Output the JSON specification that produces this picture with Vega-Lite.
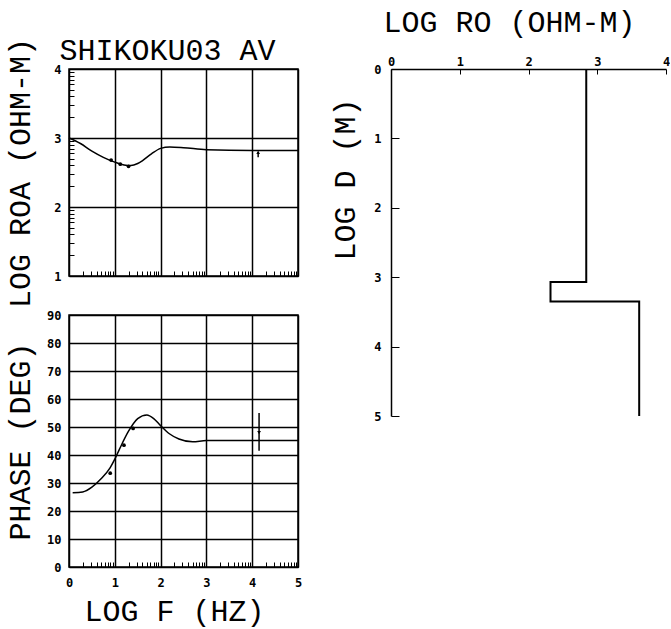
{
  "$schema": "https://vega.github.io/schema/vega-lite/v6.json",
  "background": "white",
  "padding": {"left": 4, "top": 7, "right": 0, "bottom": 0},
  "config": {
    "view": {"stroke": "black", "strokeWidth": 1.5},
    "axis": {
      "labelFont": "DejaVu Sans Mono", "labelFontWeight": "bold", "labelFontSize": 12, "labelColor": "black",
      "titleFont": "Liberation Mono", "titleFontWeight": "normal", "titleFontSize": 30, "titleColor": "black",
      "gridColor": "black", "gridWidth": 1.5, "tickColor": "black", "tickWidth": 1, "domainColor": "black", "domainWidth": 1.5,
      "labelFlush": false, "labelOverlap": false
    }
  },
  "datasets": {
    "rhoa_curve": [
      {"logf": 0.0, "logrhoa": 3.0}, {"logf": 0.25, "logrhoa": 2.92}, {"logf": 0.5, "logrhoa": 2.81},
      {"logf": 0.75, "logrhoa": 2.72}, {"logf": 1.0, "logrhoa": 2.65}, {"logf": 1.2, "logrhoa": 2.61},
      {"logf": 1.35, "logrhoa": 2.6}, {"logf": 1.5, "logrhoa": 2.63}, {"logf": 1.6, "logrhoa": 2.67},
      {"logf": 1.8, "logrhoa": 2.77}, {"logf": 2.0, "logrhoa": 2.85}, {"logf": 2.2, "logrhoa": 2.87},
      {"logf": 2.5, "logrhoa": 2.86}, {"logf": 3.0, "logrhoa": 2.83}, {"logf": 4.0, "logrhoa": 2.82},
      {"logf": 5.0, "logrhoa": 2.82}
    ],
    "rhoa_obs": [
      {"logf": 0.92, "logrhoa": 2.68}, {"logf": 1.12, "logrhoa": 2.62}, {"logf": 1.3, "logrhoa": 2.59}
    ],
    "rhoa_err": [
      {"logf": 4.13, "lo": 2.72, "hi": 2.8, "top": 2.79}
    ],
    "phase_curve": [
      {"logf": 0.08, "phase": 26.5}, {"logf": 0.3, "phase": 26.8}, {"logf": 0.5, "phase": 28.5},
      {"logf": 0.7, "phase": 31.5}, {"logf": 0.9, "phase": 35.5}, {"logf": 1.0, "phase": 38.5},
      {"logf": 1.1, "phase": 42.0}, {"logf": 1.3, "phase": 48.5}, {"logf": 1.5, "phase": 53.0},
      {"logf": 1.7, "phase": 54.3}, {"logf": 1.85, "phase": 53.0}, {"logf": 2.0, "phase": 50.5},
      {"logf": 2.2, "phase": 47.5}, {"logf": 2.4, "phase": 45.7}, {"logf": 2.7, "phase": 44.7},
      {"logf": 3.0, "phase": 45.2}, {"logf": 5.0, "phase": 45.2}
    ],
    "phase_obs": [
      {"logf": 0.9, "phase": 33.5}, {"logf": 1.2, "phase": 43.5}, {"logf": 1.4, "phase": 49.5}
    ],
    "phase_err": [
      {"logf": 4.15, "lo": 41.5, "hi": 55.0, "mid": 48.0}
    ],
    "model": [
      {"i": 0, "logrho": 2.84, "logd": 0.0}, {"i": 1, "logrho": 2.84, "logd": 3.07},
      {"i": 2, "logrho": 2.32, "logd": 3.07}, {"i": 3, "logrho": 2.32, "logd": 3.35},
      {"i": 4, "logrho": 3.61, "logd": 3.35}, {"i": 5, "logrho": 3.61, "logd": 5.0}
    ]
  },
  "bounds": "flush",
  "columns": 2,
  "spacing": {"row": 39, "column": 93},
  "concat": [
    {
      "width": 229, "height": 207,
      "resolve": {"axis": {"x": "independent"}},
      "layer": [
        {
          "data": {"name": "rhoa_curve"},
          "mark": {"type": "line", "color": "black", "strokeWidth": 1.5, "interpolate": "monotone"},
          "encoding": {
            "x": {"field": "logf", "type": "quantitative", "scale": {"domain": [0, 5], "nice": false, "zero": false},
              "axis": {"orient": "bottom", "values": [0,0.301,0.477,0.602,0.699,0.778,0.845,0.903,0.954,1,1.301,1.477,1.602,1.699,1.778,1.845,1.903,1.954,2,2.301,2.477,2.602,2.699,2.778,2.845,2.903,2.954,3,3.301,3.477,3.602,3.699,3.778,3.845,3.903,3.954,4,4.301,4.477,4.602,4.699,4.778,4.845,4.903,4.954,5],
                "labels": false, "title": null, "domain": false, "tickSize": -5, "grid": true,
                "gridOpacity": {"condition": {"test": "datum.value % 1 != 0", "value": 0}, "value": 1}}},
            "y": {"field": "logrhoa", "type": "quantitative", "scale": {"domain": [1, 4], "nice": false, "zero": false},
              "axis": {"values": [1,1.301,1.477,1.602,1.699,1.778,1.845,1.903,1.954,2,2.301,2.477,2.602,2.699,2.778,2.845,2.903,2.954,3,3.301,3.477,3.602,3.699,3.778,3.845,3.903,3.954,4],
                "labelExpr": "datum.value % 1 == 0 ? format(datum.value, 'd') : ''", "labelOverlap": false, "tickSize": -5, "labelPadding": 13, "domain": false, "grid": true,
                "gridOpacity": {"condition": {"test": "datum.value % 1 != 0", "value": 0}, "value": 1},
                "title": "LOG ROA (OHM-M)", "titleX": -40, "titleBaseline": "alphabetic", "titleAngle": 270}}
          }
        },
        {
          "data": {"name": "rhoa_obs"},
          "mark": {"type": "point", "filled": true, "color": "black", "size": 14, "opacity": 1},
          "encoding": {
            "x": {"field": "logf", "type": "quantitative",
              "axis": {"orient": "top", "labels": false, "ticks": false, "domain": false, "grid": false,
                "title": "SHIKOKU03 AV", "titleX": -10, "titleY": -10, "titleAlign": "left", "titleAnchor": "start", "titleBaseline": "alphabetic"}},
            "y": {"field": "logrhoa", "type": "quantitative",
              "axis": {"values": [1,1.301,1.477,1.602,1.699,1.778,1.845,1.903,1.954,2,2.301,2.477,2.602,2.699,2.778,2.845,2.903,2.954,3,3.301,3.477,3.602,3.699,3.778,3.845,3.903,3.954,4],
                "labelExpr": "datum.value % 1 == 0 ? format(datum.value, 'd') : ''", "labelOverlap": false, "tickSize": -5, "labelPadding": 13, "domain": false, "grid": true,
                "gridOpacity": {"condition": {"test": "datum.value % 1 != 0", "value": 0}, "value": 1},
                "title": "LOG ROA (OHM-M)", "titleX": -40, "titleBaseline": "alphabetic", "titleAngle": 270}}
          }
        },
        {
          "data": {"name": "rhoa_err"},
          "mark": {"type": "rule", "color": "black", "strokeWidth": 1.5},
          "encoding": {"x": {"field": "logf", "type": "quantitative", "axis": null},
            "y": {"field": "lo", "type": "quantitative",
              "axis": {"values": [1,1.301,1.477,1.602,1.699,1.778,1.845,1.903,1.954,2,2.301,2.477,2.602,2.699,2.778,2.845,2.903,2.954,3,3.301,3.477,3.602,3.699,3.778,3.845,3.903,3.954,4],
                "labelExpr": "datum.value % 1 == 0 ? format(datum.value, 'd') : ''", "labelOverlap": false, "tickSize": -5, "labelPadding": 13, "domain": false, "grid": true,
                "gridOpacity": {"condition": {"test": "datum.value % 1 != 0", "value": 0}, "value": 1},
                "title": "LOG ROA (OHM-M)", "titleX": -40, "titleBaseline": "alphabetic", "titleAngle": 270}},
            "y2": {"field": "hi"}}
        },
        {
          "data": {"name": "rhoa_err"},
          "mark": {"type": "point", "shape": "triangle-up", "filled": true, "color": "black", "size": 14, "opacity": 1},
          "encoding": {"x": {"field": "logf", "type": "quantitative", "axis": null},
            "y": {"field": "top", "type": "quantitative",
              "axis": {"values": [1,1.301,1.477,1.602,1.699,1.778,1.845,1.903,1.954,2,2.301,2.477,2.602,2.699,2.778,2.845,2.903,2.954,3,3.301,3.477,3.602,3.699,3.778,3.845,3.903,3.954,4],
                "labelExpr": "datum.value % 1 == 0 ? format(datum.value, 'd') : ''", "labelOverlap": false, "tickSize": -5, "labelPadding": 13, "domain": false, "grid": true,
                "gridOpacity": {"condition": {"test": "datum.value % 1 != 0", "value": 0}, "value": 1},
                "title": "LOG ROA (OHM-M)", "titleX": -40, "titleBaseline": "alphabetic", "titleAngle": 270}}}
        }
      ]
    },
    {
      "width": 275, "height": 207,
      "view": {"stroke": null},
      "data": {"name": "model"},
      "mark": {"type": "line", "color": "black", "strokeWidth": 2, "interpolate": "linear", "clip": false},
      "encoding": {
        "order": {"field": "i", "type": "quantitative"},
        "x": {"field": "logrho", "type": "quantitative", "scale": {"domain": [0, 4], "nice": false, "zero": false},
          "axis": {"orient": "top", "values": [0,1,2,3,4], "tickSize": -5, "labelPadding": 6, "domain": true, "grid": false,
            "title": "LOG RO (OHM-M)", "titleX": 118, "titleY": -38, "titleBaseline": "alphabetic"}},
        "y": {"field": "logd", "type": "quantitative", "scale": {"domain": [0, 5], "range": [0, 347], "nice": false, "zero": false},
          "axis": {"values": [0,1,2,3,4,5], "tickSize": -8, "labelPadding": 18, "domain": true, "grid": false,
            "title": "LOG D (M)", "titleX": -37, "titleY": 110, "titleBaseline": "alphabetic", "titleAngle": 270}}
      }
    },
    {
      "width": 229, "height": 252,
      "layer": [
        {
          "data": {"name": "phase_curve"},
          "mark": {"type": "line", "color": "black", "strokeWidth": 1.5, "interpolate": "monotone"},
          "encoding": {
            "x": {"field": "logf", "type": "quantitative", "scale": {"domain": [0, 5], "nice": false, "zero": false},
              "axis": {"values": [0,0.301,0.477,0.602,0.699,0.778,0.845,0.903,0.954,1,1.301,1.477,1.602,1.699,1.778,1.845,1.903,1.954,2,2.301,2.477,2.602,2.699,2.778,2.845,2.903,2.954,3,3.301,3.477,3.602,3.699,3.778,3.845,3.903,3.954,4,4.301,4.477,4.602,4.699,4.778,4.845,4.903,4.954,5],
                "labelExpr": "datum.value % 1 == 0 ? format(datum.value, 'd') : ''", "labelOverlap": false, "tickSize": -5, "labelPadding": 15, "domain": false, "grid": true,
                "gridOpacity": {"condition": {"test": "datum.value % 1 != 0", "value": 0}, "value": 1},
                "title": "LOG F (HZ)", "titleX": 105, "titleY": 53, "titleBaseline": "alphabetic"}},
            "y": {"field": "phase", "type": "quantitative", "scale": {"domain": [0, 90], "nice": false, "zero": false},
              "axis": {"values": [0,10,20,30,40,50,60,70,80,90], "labelOverlap": false, "ticks": false, "labelPadding": 8, "domain": false, "grid": true,
                "title": "PHASE (DEG)", "titleX": -40, "titleBaseline": "alphabetic", "titleAngle": 270}}
          }
        },
        {
          "data": {"name": "phase_obs"},
          "mark": {"type": "point", "filled": true, "color": "black", "size": 14, "opacity": 1},
          "encoding": {
            "x": {"field": "logf", "type": "quantitative",
              "axis": {"values": [0,0.301,0.477,0.602,0.699,0.778,0.845,0.903,0.954,1,1.301,1.477,1.602,1.699,1.778,1.845,1.903,1.954,2,2.301,2.477,2.602,2.699,2.778,2.845,2.903,2.954,3,3.301,3.477,3.602,3.699,3.778,3.845,3.903,3.954,4,4.301,4.477,4.602,4.699,4.778,4.845,4.903,4.954,5],
                "labelExpr": "datum.value % 1 == 0 ? format(datum.value, 'd') : ''", "labelOverlap": false, "tickSize": -5, "labelPadding": 15, "domain": false, "grid": true,
                "gridOpacity": {"condition": {"test": "datum.value % 1 != 0", "value": 0}, "value": 1},
                "title": "LOG F (HZ)", "titleX": 105, "titleY": 53, "titleBaseline": "alphabetic"}},
            "y": {"field": "phase", "type": "quantitative",
              "axis": {"values": [0,10,20,30,40,50,60,70,80,90], "labelOverlap": false, "ticks": false, "labelPadding": 8, "domain": false, "grid": true,
                "title": "PHASE (DEG)", "titleX": -40, "titleBaseline": "alphabetic", "titleAngle": 270}}
          }
        },
        {
          "data": {"name": "phase_err"},
          "mark": {"type": "rule", "color": "black", "strokeWidth": 1.5},
          "encoding": {
            "x": {"field": "logf", "type": "quantitative",
              "axis": {"values": [0,0.301,0.477,0.602,0.699,0.778,0.845,0.903,0.954,1,1.301,1.477,1.602,1.699,1.778,1.845,1.903,1.954,2,2.301,2.477,2.602,2.699,2.778,2.845,2.903,2.954,3,3.301,3.477,3.602,3.699,3.778,3.845,3.903,3.954,4,4.301,4.477,4.602,4.699,4.778,4.845,4.903,4.954,5],
                "labelExpr": "datum.value % 1 == 0 ? format(datum.value, 'd') : ''", "labelOverlap": false, "tickSize": -5, "labelPadding": 15, "domain": false, "grid": true,
                "gridOpacity": {"condition": {"test": "datum.value % 1 != 0", "value": 0}, "value": 1},
                "title": "LOG F (HZ)", "titleX": 105, "titleY": 53, "titleBaseline": "alphabetic"}},
            "y": {"field": "lo", "type": "quantitative",
              "axis": {"values": [0,10,20,30,40,50,60,70,80,90], "labelOverlap": false, "ticks": false, "labelPadding": 8, "domain": false, "grid": true,
                "title": "PHASE (DEG)", "titleX": -40, "titleBaseline": "alphabetic", "titleAngle": 270}},
            "y2": {"field": "hi"}}
        },
        {
          "data": {"name": "phase_err"},
          "mark": {"type": "point", "shape": "triangle-down", "filled": true, "color": "black", "size": 14, "opacity": 1},
          "encoding": {
            "x": {"field": "logf", "type": "quantitative",
              "axis": {"values": [0,0.301,0.477,0.602,0.699,0.778,0.845,0.903,0.954,1,1.301,1.477,1.602,1.699,1.778,1.845,1.903,1.954,2,2.301,2.477,2.602,2.699,2.778,2.845,2.903,2.954,3,3.301,3.477,3.602,3.699,3.778,3.845,3.903,3.954,4,4.301,4.477,4.602,4.699,4.778,4.845,4.903,4.954,5],
                "labelExpr": "datum.value % 1 == 0 ? format(datum.value, 'd') : ''", "labelOverlap": false, "tickSize": -5, "labelPadding": 15, "domain": false, "grid": true,
                "gridOpacity": {"condition": {"test": "datum.value % 1 != 0", "value": 0}, "value": 1},
                "title": "LOG F (HZ)", "titleX": 105, "titleY": 53, "titleBaseline": "alphabetic"}},
            "y": {"field": "mid", "type": "quantitative",
              "axis": {"values": [0,10,20,30,40,50,60,70,80,90], "labelOverlap": false, "ticks": false, "labelPadding": 8, "domain": false, "grid": true,
                "title": "PHASE (DEG)", "titleX": -40, "titleBaseline": "alphabetic", "titleAngle": 270}}
          }
        }
      ]
    }
  ]
}
